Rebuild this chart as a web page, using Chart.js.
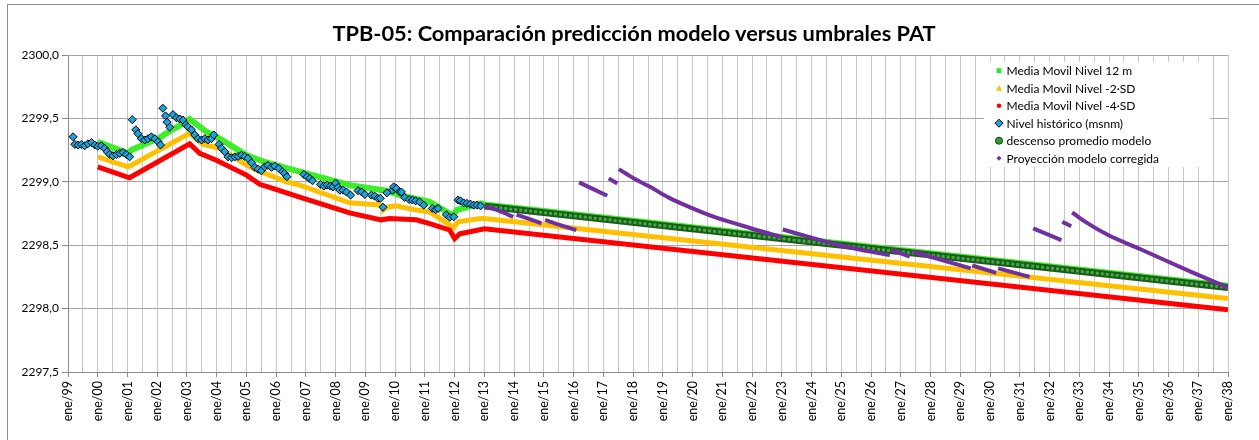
<!DOCTYPE html>
<html>
<head>
<meta charset="utf-8">
<script src="https://cdn.jsdelivr.net/npm/chart.js@4/dist/chart.umd.min.js"></script>
<style>
  html, body { margin: 0; padding: 0; background: #fff; }
  .contenedor { position: relative; width: 1259px; height: 440px; overflow: hidden; }
  canvas { display: block; }
  .titulo {
    position: absolute; left: 0; top: 20px; width: 1268px; line-height: 26px;
    text-align: center; font-family: Lato, "Open Sans", sans-serif; font-weight: bold;
    font-size: 21.8px; color: #000; white-space: nowrap;
  }
</style>
</head>
<body>
<div class="contenedor">
  <canvas id="chart-tpb05" width="1259" height="440"></canvas>
  <div class="titulo">TPB-05: Comparación predicción modelo versus umbrales PAT</div>
</div>
<script>
// Nivel histórico (msnm)
const historicoAnio = [
  1999.17, 1999.23, 1999.34, 1999.45, 1999.56, 1999.67, 1999.79, 1999.90, 2000.00, 2000.12,
  2000.23, 2000.32, 2000.40, 2000.51, 2000.63, 2000.74, 2000.85, 2000.96, 2001.07, 2001.16,
  2001.28, 2001.35, 2001.47, 2001.58, 2001.69, 2001.80, 2001.92, 2002.03, 2002.11, 2002.19,
  2002.28, 2002.33, 2002.42, 2002.53, 2002.65, 2002.76, 2002.87, 2002.96, 2003.03, 2003.15,
  2003.26, 2003.37, 2003.49, 2003.60, 2003.71, 2003.82, 2003.90, 2004.08, 2004.16, 2004.27,
  2004.38, 2004.50, 2004.61, 2004.72, 2004.83, 2004.94, 2005.05, 2005.17, 2005.28, 2005.39,
  2005.50, 2005.61, 2005.72, 2005.84, 2005.95, 2006.09, 2006.21, 2006.28, 2006.36, 2006.93,
  2007.04, 2007.13, 2007.22, 2007.49, 2007.60, 2007.71, 2007.82, 2007.91, 2008.00, 2008.08,
  2008.14, 2008.25, 2008.36, 2008.50, 2008.75, 2008.87, 2008.98, 2009.20, 2009.31, 2009.42,
  2009.50, 2009.59, 2009.72, 2009.91, 2009.95, 2010.04, 2010.15, 2010.21, 2010.32, 2010.47,
  2010.58, 2010.69, 2010.82, 2010.96, 2011.25, 2011.36, 2011.44, 2011.72, 2011.83, 2011.97,
  2012.11, 2012.19, 2012.30, 2012.41, 2012.53, 2012.64, 2012.75, 2012.87
];
const historicoNivel = [
  2299.355, 2299.295, 2299.29, 2299.295, 2299.284, 2299.30, 2299.31, 2299.29, 2299.28, 2299.284,
  2299.264, 2299.237, 2299.216, 2299.205, 2299.216, 2299.224, 2299.232, 2299.216, 2299.197, 2299.49,
  2299.41, 2299.38, 2299.34, 2299.33, 2299.34, 2299.355, 2299.34, 2299.316, 2299.29, 2299.58,
  2299.52, 2299.47, 2299.43, 2299.53, 2299.505, 2299.495, 2299.487, 2299.45, 2299.434, 2299.41,
  2299.37, 2299.34, 2299.33, 2299.34, 2299.33, 2299.34, 2299.37, 2299.295, 2299.264, 2299.237,
  2299.197, 2299.19, 2299.197, 2299.20, 2299.21, 2299.20, 2299.185, 2299.15, 2299.114, 2299.10,
  2299.087, 2299.118, 2299.13, 2299.114, 2299.124, 2299.106, 2299.08, 2299.066, 2299.04, 2299.058,
  2299.04, 2299.027, 2299.008, 2298.98, 2298.966, 2298.974, 2298.966, 2298.96, 2298.99, 2298.956,
  2298.934, 2298.934, 2298.92, 2298.895, 2298.93, 2298.92, 2298.90, 2298.895, 2298.887, 2298.87,
  2298.87, 2298.80, 2298.913, 2298.934, 2298.96, 2298.948, 2298.92, 2298.92, 2298.877, 2298.86,
  2298.856, 2298.85, 2298.842, 2298.816, 2298.79, 2298.78, 2298.79, 2298.74, 2298.72, 2298.724,
  2298.856, 2298.85, 2298.834, 2298.83, 2298.824, 2298.816, 2298.816, 2298.81
];

// Media Movil Nivel 12 m
const media12Anio = [2000.0, 2001.02, 2001.13, 2002.08, 2002.42, 2002.98, 2003.09, 2003.65, 2004.10, 2005.0,
  2005.45, 2005.78, 2006.79, 2008.47, 2009.71, 2010.15, 2011.16, 2011.83, 2011.97, 2012.06, 2012.87, 2013.0, 2038.0];
const media12Nivel = [2299.316, 2299.224, 2299.25, 2299.347, 2299.40, 2299.474, 2299.495, 2299.395, 2299.34, 2299.21,
  2299.17, 2299.145, 2299.08, 2298.974, 2298.93, 2298.895, 2298.842, 2298.75, 2298.737, 2298.777, 2298.83, 2298.822, 2298.18];

// Media Movil Nivel -2·SD
const menos2Anio = [2000.0, 2001.02, 2001.13, 2003.09, 2003.54, 2004.1, 2005.0, 2005.45, 2005.78, 2006.34, 2006.79,
  2008.47, 2009.53, 2009.59, 2009.71, 2010.04, 2010.71, 2011.16, 2011.83, 2011.97, 2012.11, 2012.87, 2013.0, 2038.0];
const menos2Nivel = [2299.197, 2299.118, 2299.13, 2299.382, 2299.295, 2299.264, 2299.132, 2299.08, 2299.053, 2299.0, 2298.974,
  2298.834, 2298.816, 2298.777, 2298.80, 2298.81, 2298.777, 2298.763, 2298.66, 2298.64, 2298.684, 2298.71, 2298.71, 2298.08];

// Media Movil Nivel -4·SD
const menos4Anio = [2000.0, 2001.07, 2003.09, 2003.43, 2003.99, 2005.0, 2005.45, 2005.78, 2006.79, 2008.47,
  2009.53, 2009.81, 2010.71, 2011.16, 2011.83, 2012.0, 2012.17, 2013.0, 2038.0];
const menos4Nivel = [2299.118, 2299.032, 2299.30, 2299.224, 2299.17, 2299.053, 2298.98, 2298.956, 2298.88, 2298.755,
  2298.70, 2298.71, 2298.70, 2298.67, 2298.62, 2298.553, 2298.59, 2298.63, 2297.99];

// descenso promedio modelo
const modeloAnio = [2013.0, 2038.0];
const modeloNivel = [2298.808, 2298.166];

// Proyección modelo corregida (null = corte entre tramos)
const proyAnio = [
  2013.0, 2013.5, 2013.97, 2014.0,
  2014.08, 2014.92, 2015.0,
  2015.04, 2015.53, 2016.09, 2016.13,
  2016.18, 2017.13, 2017.15,
  2017.18, 2017.47, 2017.5,
  2017.52, 2018.0, 2018.57, 2019.2, 2019.9, 2020.7, 2021.59, 2022.3, 2023.0, 2023.01,
  2023.03, 2024.95, 2026.63, 2026.65,
  2026.68, 2027.3, 2027.35,
  2027.41, 2029.35, 2029.36,
  2029.40, 2030.21, 2030.24,
  2030.27, 2031.33, 2031.4,
  2031.45, 2032.4, 2032.41,
  2032.43, 2032.73, 2032.74,
  2032.76, 2033.3, 2033.97, 2035.08, 2036.76, 2038.0
];
const proyNivel = [
  2298.808, 2298.77, 2298.724, null,
  2298.742, 2298.672, null,
  2298.70, 2298.66, 2298.62, null,
  2298.995, 2298.89, null,
  2299.027, 2298.987, null,
  2299.10, 2299.03, 2298.96, 2298.875, 2298.80, 2298.725, 2298.66, 2298.61, 2298.565, null,
  2298.624, 2298.50, 2298.42, null,
  2298.466, 2298.41, null,
  2298.448, 2298.317, null,
  2298.34, 2298.282, null,
  2298.317, 2298.25, null,
  2298.632, 2298.54, null,
  2298.684, 2298.65, null,
  2298.758, 2298.67, 2298.58, 2298.466, 2298.29, 2298.166
];

const yTicks = [2297.5, 2298.0, 2298.5, 2299.0, 2299.5, 2300.0];

function pares(xs, ys) {
  return xs.map((x, i) => ({ x: x, y: ys[i] }));
}

const fuente = 'Lato, "Open Sans", sans-serif';

const fondoYMarco = {
  id: 'fondoYMarco',
  beforeDraw(chart) {
    const ctx = chart.ctx;
    ctx.save();
    ctx.fillStyle = '#ffffff';
    ctx.fillRect(0, 0, chart.width, chart.height);
    ctx.strokeStyle = '#8c8c8c';
    ctx.lineWidth = 1;
    ctx.beginPath();
    ctx.moveTo(7.5, chart.height);
    ctx.lineTo(7.5, 4.5);
    ctx.lineTo(chart.width, 4.5);
    ctx.stroke();
    ctx.restore();
  }
};

const leyendaItems = [
  { texto: 'Media Movil Nivel 12 m', tipo: 'cuadrado', color: '#33e633' },
  { texto: 'Media Movil Nivel -2·SD', tipo: 'triangulo', color: '#ffc000' },
  { texto: 'Media Movil Nivel -4·SD', tipo: 'circulo', color: '#ff0000' },
  { texto: 'Nivel histórico (msnm)', tipo: 'rombo', color: '#1ba3dc' },
  { texto: 'descenso promedio modelo', tipo: 'circuloBorde', color: '#2e9e2e' },
  { texto: 'Proyección modelo corregida', tipo: 'romboChico', color: '#7030a0' }
];

const leyenda = {
  id: 'leyenda',
  afterDraw(chart) {
    const ctx = chart.ctx;
    ctx.save();
    ctx.fillStyle = '#ffffff';
    ctx.fillRect(984, 62, 226, 105);
    ctx.font = '12px ' + fuente;
    ctx.textBaseline = 'middle';
    ctx.textAlign = 'left';
    leyendaItems.forEach((it, i) => {
      const y = 70.7 + i * 17.5;
      const x = 999;
      ctx.fillStyle = it.color;
      ctx.strokeStyle = '#000';
      ctx.lineWidth = 1;
      ctx.beginPath();
      if (it.tipo === 'cuadrado') {
        ctx.fillRect(x - 2.5, y - 2.5, 5, 5);
      } else if (it.tipo === 'triangulo') {
        ctx.moveTo(x, y - 3.5); ctx.lineTo(x + 3, y + 2.5); ctx.lineTo(x - 3, y + 2.5); ctx.closePath(); ctx.fill();
      } else if (it.tipo === 'circulo') {
        ctx.arc(x, y, 2.3, 0, Math.PI * 2); ctx.fill();
      } else if (it.tipo === 'rombo') {
        ctx.moveTo(x, y - 4); ctx.lineTo(x + 4, y); ctx.lineTo(x, y + 4); ctx.lineTo(x - 4, y); ctx.closePath(); ctx.fill(); ctx.stroke();
      } else if (it.tipo === 'circuloBorde') {
        ctx.arc(x, y, 3.5, 0, Math.PI * 2); ctx.fill(); ctx.strokeStyle = '#114411'; ctx.stroke();
      } else {
        ctx.moveTo(x, y - 2.5); ctx.lineTo(x + 2.5, y); ctx.lineTo(x, y + 2.5); ctx.lineTo(x - 2.5, y); ctx.closePath(); ctx.fill();
      }
      ctx.fillStyle = '#000';
      ctx.fillText(it.texto, 1006.5, y + 0.5);
    });
    ctx.restore();
  }
};

const data = {
  datasets: [
    {
      label: 'Proyección modelo corregida',
      data: pares(proyAnio, proyNivel),
      borderColor: '#7030a0', borderWidth: 4, pointRadius: 0, spanGaps: false,
      cubicInterpolationMode: 'monotone', order: 1
    },
    {
      label: 'descenso promedio modelo',
      data: pares(modeloAnio, modeloNivel),
      borderColor: '#3fae3f', borderWidth: 3, borderDash: [3, 2], pointRadius: 0, order: 2
    },
    {
      label: 'descenso promedio modelo (borde)',
      data: pares(modeloAnio, modeloNivel),
      borderColor: '#1c5a1c', borderWidth: 7, pointRadius: 0, order: 3
    },
    {
      label: 'Nivel histórico (msnm)',
      data: pares(historicoAnio, historicoNivel),
      showLine: false, pointStyle: 'rectRot', pointRadius: 4,
      backgroundColor: '#1ba3dc', pointBorderColor: '#000', pointBorderWidth: 1, order: 4
    },
    {
      label: 'Media Movil Nivel -4·SD',
      data: pares(menos4Anio, menos4Nivel),
      borderColor: '#ff0000', borderWidth: 5, pointRadius: 0, order: 5
    },
    {
      label: 'Media Movil Nivel -2·SD',
      data: pares(menos2Anio, menos2Nivel),
      borderColor: '#ffc000', borderWidth: 5, pointRadius: 0, order: 6
    },
    {
      label: 'Media Movil Nivel 12 m',
      data: pares(media12Anio, media12Nivel),
      borderColor: '#3ded2a', borderWidth: 6, pointRadius: 0, order: 7
    }
  ]
};

const config = {
  type: 'line',
  data: data,
  options: {
    responsive: false,
    animation: false,
    devicePixelRatio: 1,
    layout: { padding: { left: 0, right: 31, top: 55, bottom: 0 } },
    plugins: {
      legend: { display: false },
      tooltip: { enabled: false },
      title: { display: false }
    },
    scales: {
      x: {
        type: 'linear',
        min: 1999,
        max: 2038,
        afterFit(scale) { scale.height = 68; },
        grid: {
          color: '#c8c8c8',
          tickLength: 5,
          tickColor: (c) => (c.tick && Number.isInteger(c.tick.value)) ? '#8c8c8c' : 'rgba(0,0,0,0)'
        },
        border: { color: '#8c8c8c' },
        ticks: {
          stepSize: 0.5,
          autoSkip: false,
          minRotation: 90,
          maxRotation: 90,
          padding: 4,
          color: '#000',
          font: { family: fuente, size: 12.5 },
          callback: (v) => Number.isInteger(v) ? 'ene/' + String(v % 100).padStart(2, '0') : ''
        }
      },
      y: {
        min: 2297.5,
        max: 2300,
        afterFit(scale) { scale.width = 68; },
        afterBuildTicks(scale) { scale.ticks = yTicks.map(v => ({ value: v })); },
        grid: { color: '#a6a6a6', tickLength: 6, tickColor: '#8c8c8c' },
        border: { color: '#8c8c8c' },
        ticks: {
          padding: 3,
          color: '#000',
          font: { family: fuente, size: 12 },
          callback: (v) => v.toFixed(1).replace('.', ',')
        }
      }
    }
  },
  plugins: [fondoYMarco, leyenda]
};

new Chart(document.getElementById('chart-tpb05'), config);
</script>
</body>
</html>
